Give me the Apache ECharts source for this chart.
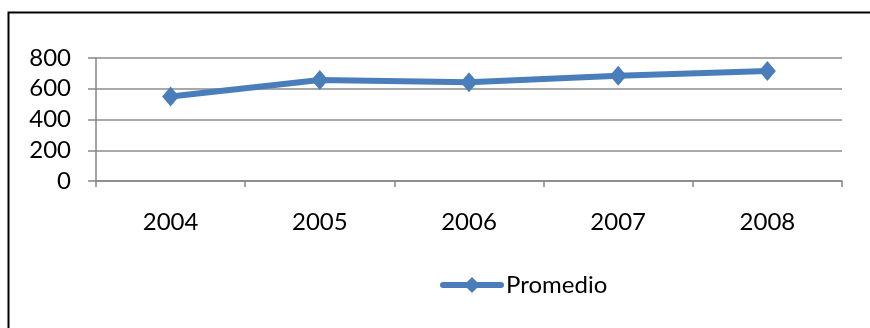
<!DOCTYPE html>
<html><head><meta charset="utf-8">
<script src="https://cdn.jsdelivr.net/npm/echarts@6/dist/echarts.min.js"></script>
<style>html,body{margin:0;padding:0;background:#fff}#c{width:870px;height:328px}</style>
</head><body><div id="c"></div>
<script>
const categories = ['2004', '2005', '2006', '2007', '2008'];
const promedio = [550, 657, 643, 684, 715];
const yTicks = [0, 200, 400, 600, 800];

const chart = echarts.init(document.getElementById('c'));
const font = 'Lato, "Open Sans", sans-serif';
chart.setOption({
  animation: false,
  backgroundColor: '#fff',
  graphic: [{
    type: 'rect', left: 6, top: 10, silent: true,
    shape: { width: 900, height: 400 },
    style: { fill: 'none', stroke: '#000', lineWidth: 2 }
  }],
  grid: { left: 96, right: 28, top: 58, bottom: 147 },
  legend: {
    data: [{ name: 'Promedio' }],
    left: 435, top: 268,
    itemWidth: 58, itemHeight: 20, itemGap: 2,
    lineStyle: { width: 6, cap: 'round' },
    textStyle: { fontFamily: font, fontSize: 24, color: '#000', padding: [0, 0, 0, 0] }
  },
  xAxis: {
    type: 'category', data: categories, boundaryGap: true,
    axisLine: { lineStyle: { color: '#868686', width: 1.5 } },
    axisTick: { show: true, length: 6, lineStyle: { color: '#868686', width: 1.5 } },
    axisLabel: { color: '#000', fontFamily: font, fontSize: 24, margin: 29 },
    splitLine: { show: false }
  },
  yAxis: {
    type: 'value', min: yTicks[0], max: yTicks[yTicks.length - 1], interval: 200,
    axisLine: { show: true, lineStyle: { color: '#868686', width: 1.5 } },
    axisTick: { show: true, length: 8, lineStyle: { color: '#868686', width: 1.5 } },
    axisLabel: { color: '#000', fontFamily: font, fontSize: 24, margin: 25 },
    splitLine: { show: true, lineStyle: { color: '#8c8c8c', width: 1.5 } }
  },
  series: [{
    name: 'Promedio', type: 'line', data: promedio,
    symbol: 'diamond', symbolSize: [17, 20],
    lineStyle: { color: '#4a7ebb', width: 6 },
    itemStyle: { color: '#4a7ebb' }
  }]
});
</script></body></html>
